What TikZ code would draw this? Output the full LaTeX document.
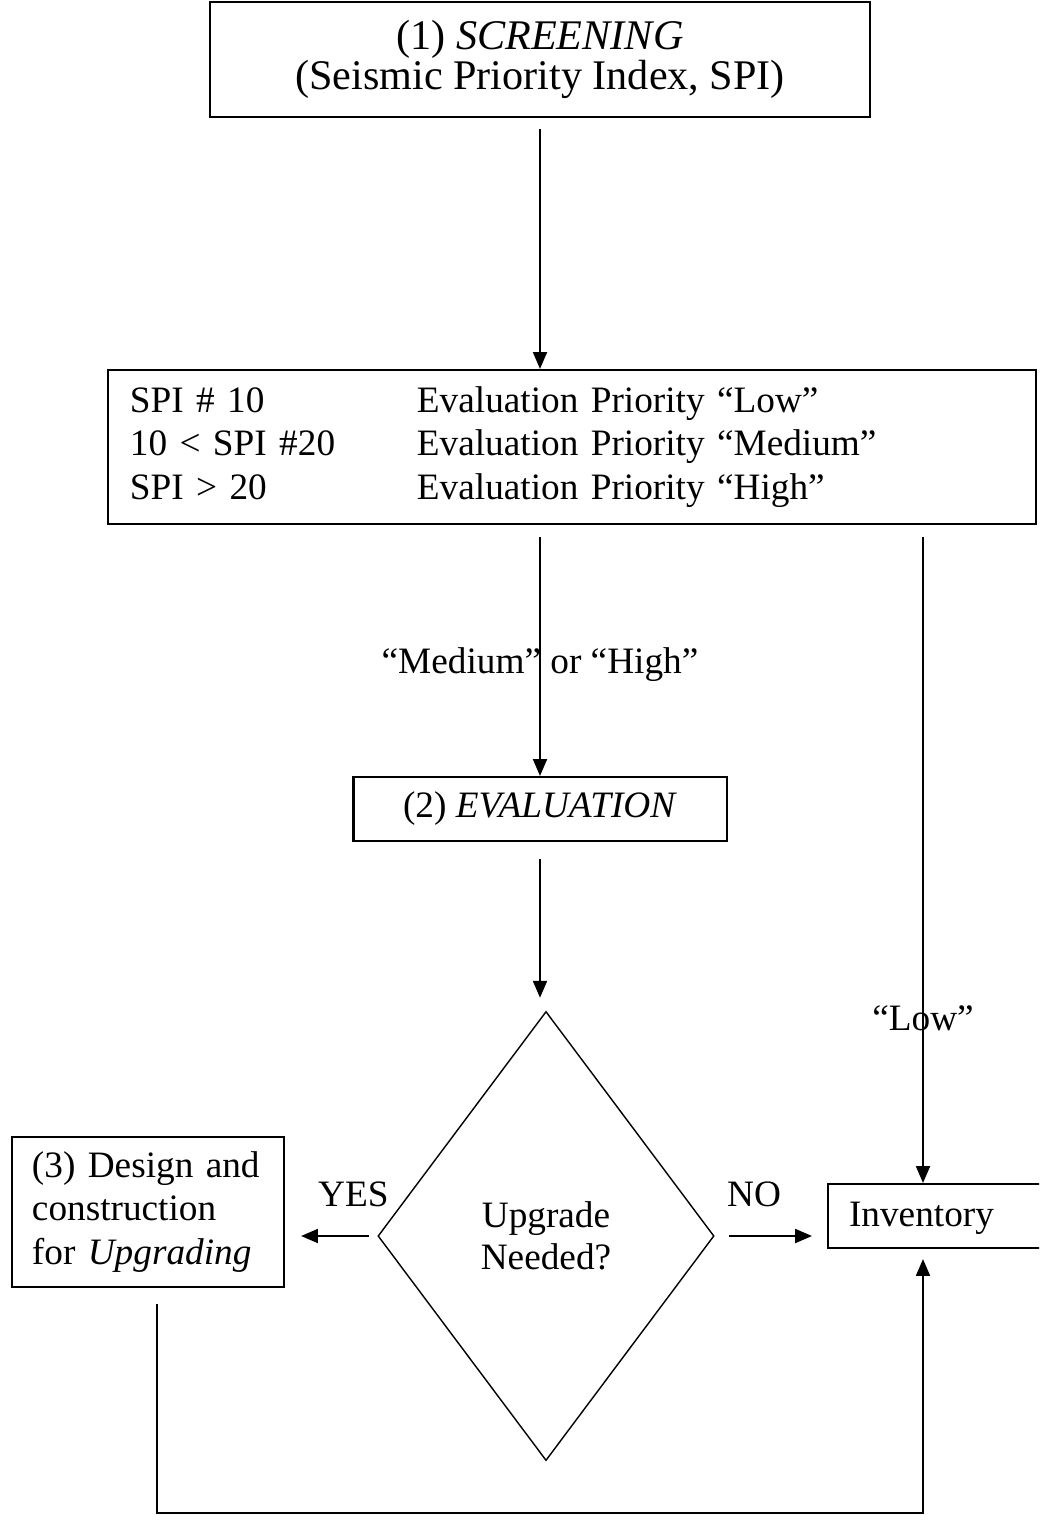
\documentclass[tikz,border=0pt]{standalone}
\usepackage{fontspec}
\setmainfont{Liberation Serif}
\usetikzlibrary{arrows.meta,shapes.geometric}

\begin{document}
\begin{tikzpicture}[
    x=0.025cm, y=-0.025cm,
    mytext/.style={font=\fontsize{26.5}{30}\selectfont},
    mybox/.style={mytext, draw, line width=1.5pt, rectangle, inner sep=0pt},
    mydiamond/.style={mytext, draw, line width=1pt, diamond, inner sep=0pt, align=center},
    myarrow/.style={-{Triangle[length=12pt, width=10pt]}, line width=1.2pt},
    mylabel/.style={mytext, inner sep=0pt}
]
    % Page frame
    \clip (0, 0) rectangle (1039, 1524);

    % Steps
    \node[mybox, align=center, minimum width=16.5cm, minimum height=2.875cm,
          font=\fontsize{30}{28}\selectfont] (screen) at (540, 59.5)
        {(1) \textit{SCREENING}\\(Seismic Priority Index, SPI)};
    \node[mybox, text width=22.1cm, inner xsep=0.55cm, align=left, minimum height=3.85cm,
          font=\fontsize{26.5}{31}\selectfont] (prio) at (572, 447)
        {\begin{tabular}{@{}p{7.175cm}@{}l@{}}
            SPI \# 10 & Evaluation Priority “Low”\\
            10 < SPI \#20 & Evaluation Priority “Medium”\\
            SPI > 20 & Evaluation Priority “High”
         \end{tabular}};
    \node[mybox, minimum width=9.325cm, minimum height=1.6cm] (eval) at (540, 809)
        {(2) \textit{EVALUATION}};
    \node[mydiamond, minimum width=8.4cm, minimum height=11.225cm] (decide) at (546, 1236)
        {Upgrade\\Needed?};
    \node[mybox, text width=5.8cm, inner xsep=0.5cm, align=left, minimum height=3.75cm,
          font=\fontsize{26.5}{31}\selectfont] (upg) at (148, 1212)
        {(3) Design and\\construction\\for \textit{Upgrading}};
    \node[mybox, anchor=west, text width=4.95cm, inner xsep=0.525cm, align=left,
          minimum height=1.6cm, text depth=0.1cm] (inv) at (827, 1216) {Inventory};

    % Turning points
    \coordinate (lowx) at (923, 0);
    \coordinate (downx) at (157, 0);
    \coordinate (botturn) at (923, 1513);

    % Connectors
    \draw[myarrow, shorten <=0.275cm] (screen.south) -- (screen.south |- prio.north);
    \draw[myarrow, shorten <=0.3cm] (prio.south -| eval.north) --
        node[mylabel, pos=.557] {“Medium” or “High”} (eval.north);
    \draw[myarrow, shorten <=0.425cm, shorten >=0.325cm] (eval.south) -- (eval.south |- decide.north);
    \draw[myarrow, shorten <=0.2cm, shorten >=0.4cm] (decide.west) --
        node[mylabel, above=0.7cm, pos=.26] {YES} (decide.west -| upg.east);
    \draw[myarrow, shorten <=0.35cm, shorten >=0.375cm] (decide.east) --
        node[mylabel, above=0.7cm, pos=.35] {NO} (decide.east -| inv.west);
    \draw[myarrow, shorten <=0.3cm] (prio.south -| lowx) --
        node[mylabel, pos=.75] {“Low”} (inv.north -| lowx);
    \draw[myarrow, shorten <=0.4cm, shorten >=0.25cm] (upg.south -| downx) |- (botturn)
        -- (inv.south -| botturn);
\end{tikzpicture}
\end{document}
